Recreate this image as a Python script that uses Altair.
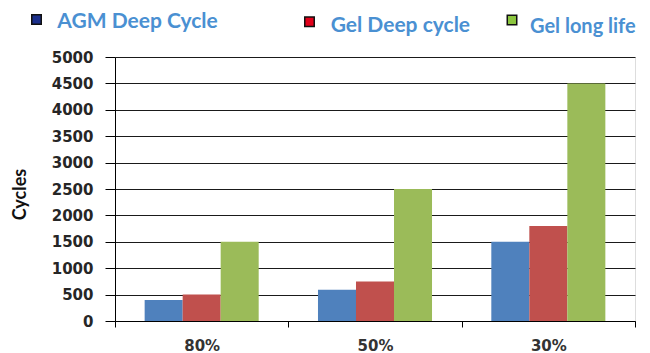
import altair as alt
import pandas as pd

categories = ["80%", "50%", "30%"]
series = ["AGM Deep Cycle", "Gel Deep cycle", "Gel long life"]
agm_deep = [400, 590, 1500]
gel_deep = [500, 750, 1800]
gel_long = [1500, 2500, 4500]
y_ticks = [0, 500, 1000, 1500, 2000, 2500, 3000, 3500, 4000, 4500, 5000]

bar_colors = ["#4F81BD", "#C0504D", "#9BBB59"]
legend_colors = ["#1B2F8C", "#E2001A", "#8CC63F"]
legend_text_color = "#4A90D2"

rows = []
for s, vals in zip(series, [agm_deep, gel_deep, gel_long]):
    for c, v in zip(categories, vals):
        rows.append({"category": c, "series": s, "value": v})
df = pd.DataFrame(rows)

bars = alt.Chart(df).mark_bar().encode(
    x=alt.X(
        "category:N",
        sort=categories,
        scale=alt.Scale(paddingInner=0, paddingOuter=0),
        axis=alt.Axis(
            title=None,
            labelAngle=0,
            tickBand="extent",
            tickSize=6,
            tickColor="#000",
            domainColor="#000",
            labelFont="DejaVu Sans",
            labelFontWeight="bold",
            labelFontSize=15,
            labelColor="#333333",
            labelPadding=11,
            grid=False,
        ),
    ),
    xOffset=alt.XOffset(
        "series:N",
        sort=series,
        scale=alt.Scale(paddingOuter=0.78, paddingInner=0),
    ),
    y=alt.Y(
        "value:Q",
        scale=alt.Scale(domain=[0, 5000], nice=False),
        axis=alt.Axis(
            title="Cycles",
            values=y_ticks,
            format="d",
            grid=True,
            gridColor="#1a1a1a",
            gridWidth=1,
            tickSize=10,
            tickColor="#000",
            domainColor="#000",
            labelFont="DejaVu Sans",
            labelFontWeight="bold",
            labelFontSize=15,
            labelColor="#262626",
            labelPadding=12,
            titleFont="Lato",
            titleFontWeight="bold",
            titleFontSize=18,
            titleColor="#111111",
            titleAngle=-90,
            titleX=-95,
            titleY=137,
            titleAlign="center",
            titleBaseline="middle",
        ),
    ),
    color=alt.Color(
        "series:N",
        sort=series,
        scale=alt.Scale(domain=series, range=bar_colors),
        legend=None,
    ),
)

legend_pos = [
    # marker x, marker y, text x, text baseline y, font size (relative to plot origin)
    (-78.5, -37.5, -57.7, -29.0, 21),
    (194.5, -35.3, 215.7, -25.3, 21),
    (397.0, -37.0, 415.0, -23.7, 20),
]

layers = [bars]
for s, col, (mx, my, tx, ty, fs) in zip(series, legend_colors, legend_pos):
    d = pd.DataFrame({"series": [s]})
    layers.append(
        alt.Chart(d).mark_square(
            size=90, fill=col, stroke="#111", strokeWidth=1.5, opacity=1
        ).encode(x=alt.value(mx), y=alt.value(my))
    )
    layers.append(
        alt.Chart(d).mark_text(
            align="left",
            baseline="alphabetic",
            font="Lato",
            fontWeight="bold",
            fontSize=fs,
            color=legend_text_color,
        ).encode(x=alt.value(tx), y=alt.value(ty), text="series:N")
    )

chart = alt.layer(*layers).properties(
    width=520,
    height=264,
    autosize=alt.AutoSizeParams(type="none"),
    padding={"left": 107, "top": 49, "right": 7, "bottom": 34},
).configure_view(stroke="#000", strokeWidth=1).configure(background="white")

chart.save("out.html", embed_options={"renderer": "svg", "actions": False})
